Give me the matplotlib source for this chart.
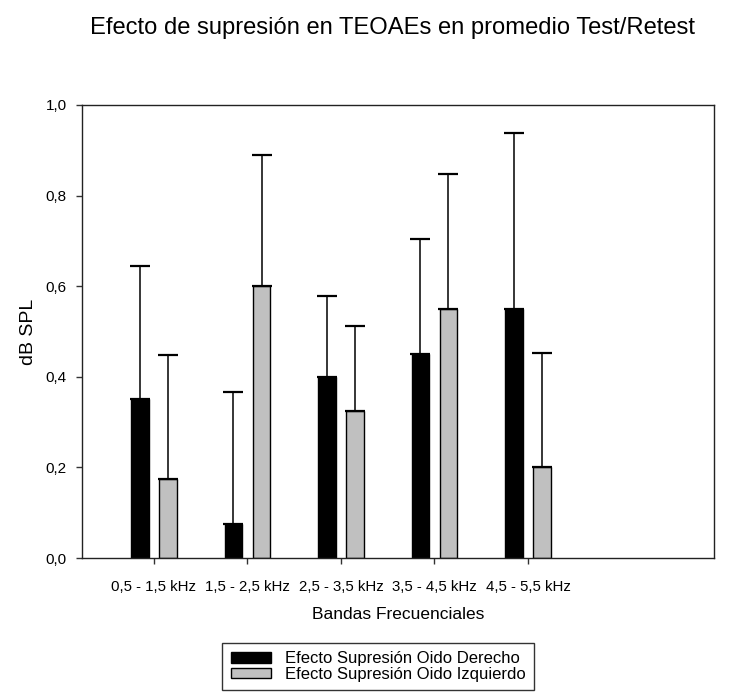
import matplotlib
matplotlib.use("Agg")
import matplotlib.pyplot as plt
import numpy as np

plt.rcParams['font.family'] = ['Liberation Sans', 'DejaVu Sans']

bands = ["0,5 - 1,5 kHz", "1,5 - 2,5 kHz", "2,5 - 3,5 kHz", "3,5 - 4,5 kHz", "4,5 - 5,5 kHz"]
right_ear = [0.35, 0.075, 0.40, 0.45, 0.55]
right_err = [0.295, 0.292, 0.178, 0.255, 0.388]
left_ear = [0.175, 0.60, 0.325, 0.55, 0.20]
left_err = [0.274, 0.289, 0.188, 0.298, 0.252]
yticks = [0.0, 0.2, 0.4, 0.6, 0.8, 1.0]

W, H = 733, 694
fig = plt.figure(figsize=(W / 100, H / 100), dpi=100)
ax = fig.add_axes([82 / W, 1 - 558 / H, (714 - 82) / W, (558 - 105) / H])

x = np.arange(len(bands))
bw = 0.19
off = 0.15
ekw = dict(elinewidth=1.1, capthick=1.6, ecolor='black')
ax.bar(x - off, right_ear, bw, color='black', edgecolor='black', linewidth=1.0,
       yerr=[np.zeros(len(bands)), right_err], capsize=7, error_kw=ekw,
       label="Efecto Supresión Oido Derecho", zorder=2)
ax.bar(x + off, left_ear, bw, color='#c0c0c0', edgecolor='black', linewidth=1.0,
       yerr=[np.zeros(len(bands)), left_err], capsize=7, error_kw=ekw,
       label="Efecto Supresión Oido Izquierdo", zorder=2)

ax.set_xlim(-0.77, 5.99)
ax.set_ylim(0, 1.0)
ax.set_xticks(x)
ax.set_xticklabels(bands, fontsize=10.8)
ax.set_yticks(yticks)
ax.set_yticklabels([f"{v:.1f}".replace('.', ',') for v in yticks], fontsize=11)
ax.tick_params(direction='out', length=4.5, width=1, color='#333333')
ax.tick_params(axis='x', pad=11)
ax.tick_params(axis='y', pad=6.5)
for s in ax.spines.values():
    s.set_linewidth(1.0)
    s.set_color('#222222')

ax.set_xlabel("Bandas Frecuenciales", fontsize=12.5)
ax.xaxis.set_label_coords(0.5, -(607 - 558) / 453)
ax.set_ylabel("dB SPL", fontsize=14)
ax.yaxis.set_label_coords(-(82 - 37) / 632, 0.5)

fig.text(393 / W, 1 - 34 / H, "Efecto de supresión en TEOAEs en promedio Test/Retest",
         ha='center', va='baseline', fontsize=17.1)

fig.legend(loc='upper center', bbox_to_anchor=(378 / W, 1 - 643 / H),
           prop={'size': 12.0}, frameon=True, fancybox=False, edgecolor='black',
           handlelength=2.4, handleheight=0.6, handletextpad=0.85,
           borderpad=0.5, labelspacing=0.02, borderaxespad=0)

fig.savefig("out.png", dpi=100)
